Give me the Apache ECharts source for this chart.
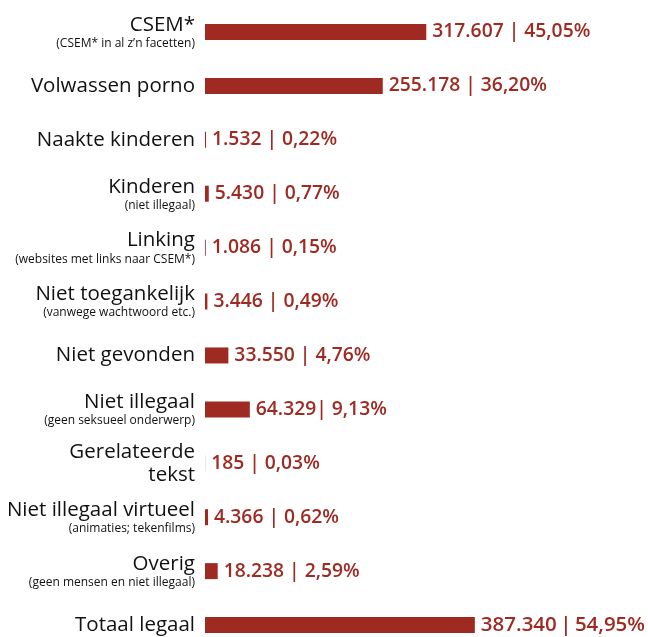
<!DOCTYPE html>
<html>
<head>
<meta charset="utf-8">
<script src="https://cdn.jsdelivr.net/npm/echarts@6/dist/echarts.min.js"></script>
<style>
  html, body { margin: 0; padding: 0; background: #fff; }
  #chart { width: 648px; height: 637px; }
</style>
</head>
<body>
<div id="chart"></div>
<script>
// categories, top to bottom
const titles = [
  'CSEM*', 'Volwassen porno', 'Naakte kinderen', 'Kinderen', 'Linking',
  'Niet toegankelijk', 'Niet gevonden', 'Niet illegaal', 'Gerelateerde\ntekst',
  'Niet illegaal virtueel', 'Overig', 'Totaal legaal'
];
const subtitles = [
  '(CSEM* in al z\u2019n facetten)', '', '', '(niet illegaal)', '(websites met links naar CSEM*)',
  '(vanwege wachtwoord etc.)', '', '(geen seksueel onderwerp)', '',
  '(animaties; tekenfilms)', '(geen mensen en niet illegaal)', ''
];
const counts = [317607, 255178, 1532, 5430, 1086, 3446, 33550, 64329, 185, 4366, 18238, 387340];
const valueLabels = [
  '317.607 | 45,05%', '255.178 | 36,20%', '1.532 | 0,22%', '5.430 | 0,77%',
  '1.086 | 0,15%', '3.446 | 0,49%', '33.550 | 4,76%', '64.329| 9,13%',
  '185 | 0,03%', '4.366 | 0,62%', '18.238 | 2,59%', '387.340\u2009|\u200954,95%'
];

const red = '#9e2a22';

const cats = titles.map((t, i) => {
  const main = t.split('\n').map(s => '{a|' + s + '}').join('\n');
  return subtitles[i] ? main + '\n{b|' + subtitles[i] + '}' : main;
});

// the total row has a slightly larger label
const barData = counts.map((v, i) =>
  i === counts.length - 1 ? { value: v, label: { fontSize: 20.5 } } : v
);

const chart = echarts.init(document.getElementById('chart'));
chart.setOption({
  animation: false,
  grid: { left: 205, right: 25, top: 5, height: 647, outerBoundsMode: 'none', containLabel: false },
  xAxis: {
    type: 'value',
    min: 0,
    max: 600000,
    show: false
  },
  yAxis: {
    type: 'category',
    inverse: true,
    data: cats,
    axisLine: { show: false },
    axisTick: { show: false },
    axisLabel: {
      margin: 10,
      align: 'right',
      rich: {
        a: { fontFamily: 'Open Sans', fontSize: 20.5, color: '#111', lineHeight: 23, align: 'right' },
        b: { fontFamily: 'Open Sans', fontSize: 12, color: '#111', lineHeight: 14, align: 'right' }
      }
    }
  },
  series: [{
    type: 'bar',
    data: barData,
    barWidth: 16,
    itemStyle: { color: red },
    label: {
      show: true,
      position: 'right',
      distance: 6,
      fontFamily: 'Open Sans',
      fontWeight: 600,
      fontSize: 19.3,
      color: red,
      formatter: p => valueLabels[p.dataIndex]
    }
  }]
});
</script>
</body>
</html>
